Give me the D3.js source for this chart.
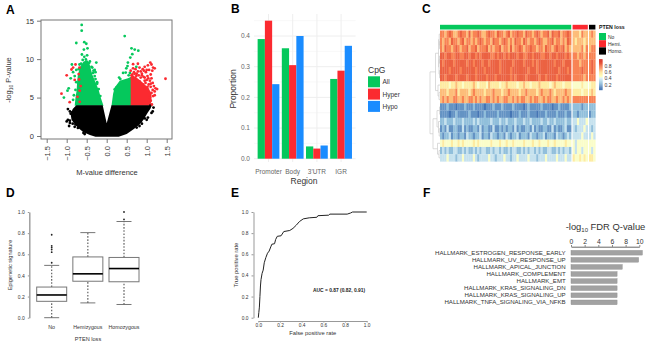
<!DOCTYPE html>
<html>
<head>
<meta charset="utf-8">
<script src="https://cdn.jsdelivr.net/npm/d3@7"></script>
<style>
  html, body { margin: 0; padding: 0; background: #fff; }
  svg { display: block; font-family: "Liberation Sans", Arial, sans-serif; }
</style>
</head>
<body>
<div id="result"></div>
<script>
// panel A: dense parts of the cloud as outlines, loose points listed one by one
const volcanoBlackOutline = [[-0.76,4],[-0.85,3.5],[-0.9,2.8],[-0.88,2.1],[-0.78,1.4],[-0.68,0.9],[-0.58,0.5],[-0.42,0.12],[-0.28,-0.1],[0.3,-0.1],[0.5,0.25],[0.68,0.9],[0.82,1.5],[0.92,2.1],[1.02,3],[1.1,3.6],[1.12,4],[0.12,4],[0,1.65],[-0.1,4]];
const volcanoGreenLeft = [[-0.8,3.95],[-0.78,5],[-0.75,6],[-0.74,7],[-0.72,8],[-0.66,9],[-0.58,9.7],[-0.48,9.85],[-0.42,9.2],[-0.36,8],[-0.28,7],[-0.2,6],[-0.15,5],[-0.08,3.95]];
const volcanoGreenRight = [[0.12,3.95],[0.16,5.5],[0.2,6.3],[0.325,7.2],[0.53,7.5],[0.61,7.7],[0.61,3.95]];
const volcanoRedRight = [[0.6,3.95],[0.6,7.8],[0.72,7.7],[0.85,7.2],[0.95,6.7],[1.05,6.2],[1.12,5.5],[1.12,4.5],[1.08,3.95]];
const volcanoBlackPts = [[-0.97,3.5],[-0.92,3.2],[-0.9,2.9],[-0.86,3.1],[-0.97,2.1],[-1,1.9],[-0.92,2],[-0.94,1.3],[-0.92,1.7],[-0.85,1.6],[-0.8,1.2],[-0.78,1.5],[-0.72,1.05],[-0.58,0.4],[-0.55,0.25],[1.17,3.7],[1.15,3.2],[1.12,3],[1.03,2.4],[1,2.1],[0.95,2.3],[0.88,1.6],[0.82,1.3],[0.75,1.1],[0.85,1.9],[1.1,4]];
const volcanoGreenPts = [[-0.625,14.45],[-0.625,13.7],[-0.76,12.1],[-0.56,12.2],[-0.51,12],[-0.57,11.25],[-0.48,11.4],[-0.62,10.6],[-0.49,10.5],[-0.56,10.3],[-0.26,9.55],[-0.87,9.3],[-0.9,7.5],[-0.95,6.2],[-0.98,5.9],[-1.07,5],[-0.8,7.8],[-0.76,8.6],[-0.84,8.3],[-0.76,7],[-0.78,6],[-0.82,5.3],[-0.84,4.7],[-0.3,8.6],[-0.28,8.3],[-0.34,8.2],[-0.24,7],[-0.2,6.1],[-0.16,5.2],[-0.64,9.4],[-0.44,9.5],[-0.62,9],[-0.68,9.3],[-0.7,8.7],[-0.6,9.9],[-0.52,9.95],[-0.42,9.7],[-0.38,9],[-0.33,8.5],[-0.3,7.8],[-0.24,6.8],[-0.36,8.9],[-0.28,7.4],[0.45,13],[0.62,11.4],[0.7,11.25],[0.79,11.1],[0.64,10.65],[0.59,10.2],[0.53,9.55],[0.52,9.1],[0.49,8.8],[0.475,8.25],[0.41,8.2],[0.31,7.6],[0.34,7.4],[0.24,6.3],[0.2,6.05],[0.74,9],[0.55,7.9],[0.58,8.2]];
const volcanoRedPts = [[-1.13,5.5],[-1,7.9],[-0.88,8.65],[-0.84,8.9],[-0.78,9.3],[-0.68,8.9],[-0.7,8.05],[-0.69,7.35],[-0.65,6.5],[-0.675,5.9],[-0.73,5.1],[-0.675,4.45],[-0.925,4.4],[-0.8,7.3],[0.66,9.35],[0.78,9.4],[0.82,8.9],[0.72,8.7],[0.68,8.3],[0.64,8],[0.75,8.1],[0.85,8.4],[0.9,8.7],[0.95,9],[1.03,9.2],[1.09,9.55],[1.12,9.3],[1.16,8.9],[1.2,8.8],[1.06,8.6],[0.98,8.3],[1.1,8],[1.02,7.8],[0.92,7.7],[0.85,7.6],[1,7.3],[1.08,7.2],[1.12,7.5],[0.97,6.9],[1.05,6.7],[1.15,6.9],[1.18,6.5],[1.1,6.4],[1.22,6.2],[1.26,6.1],[1.2,5.8],[1.12,5.6],[1.16,5.2],[1.08,5],[1.1,4.6],[1.05,4.3],[0.95,6.2],[0.9,6.7],[0.82,7.1],[0.7,7.5],[0.66,7.7],[1.47,7.45],[1.13,4.1],[0.63,7.4],[0.74,7.8],[0.8,7.9],[0.88,7.9],[0.95,7.6],[1.04,7.5],[0.95,7.2],[1.1,6.8],[1.02,6.4],[1.15,6],[0.78,8.4],[0.7,8.1],[0.88,8.1],[0.93,8.5],[1,8.6],[1.14,8.5],[0.62,7.9],[0.6,8.5],[0.66,8.8],[1.2,5.3]];

// panel B
const regions = ["Promoter", "Body", "3'UTR", "IGR"];
const cpgGroups = ["All", "Hyper", "Hypo"];
const cpgAll = [0.39, 0.36, 0.04, 0.26];
const cpgHyper = [0.45, 0.305, 0.033, 0.287];
const cpgHypo = [0.243, 0.40, 0.043, 0.368];

// panel C: one digit per sample, digit d means about d/10 + 0.05
const heatRows = [
  "7767876678 7768677876 6787768776 7867787768 7767876778 6877867787 6665766 676",
  "7677687767 8677676787 6776877678 7676877687 6776787667 7867767687 6566656 666",
  "7687767876 7786778677 7867677867 7686778767 7877677687 7678778676 6666757 677",
  "8878877887 7887887878 8887787887 8788878877 8878887788 7887888787 7767767 777",
  "8788887888 8878878887 8878888788 8887888878 8878788888 8878887888 7776777 787",
  "8888788887 8888887888 7888888788 8878888888 7888788888 8888788878 7777877 787",
  "8878888788 8878887888 8788878888 8878788887 8888878878 8887888888 7777767 777",
  "5555455655 4555565455 5465555455 6555545565 5455565555 4565554555 4444544 455",
  "6665666756 6665676666 5666766656 6766665667 6666567666 7656666766 5555455 565",
  "6767667766 7667767676 6776767667 7667676776 6767766767 7667667676 7777777 777",
  "1112111011 1211121111 0111211121 1112111101 2111112111 1011211112 2222122 222",
  "1111011211 1112111011 2111112111 1101112111 2111011121 1112111211 2212222 122",
  "2232223222 3222232322 2223222322 3222322232 2322223223 2232222322 3343334 333",
  "1213112211 3121122131 2211311212 1221312112 2131211221 1312112311 3233343 323",
  "2122312212 2132212231 2213221221 3212231222 1322122312 2213221232 3333433 343",
  "4544454454 5444454544 4445444544 5445444454 4454454445 4454444544 4344444 444",
  "2323223322 3232232323 3223233232 2323322323 2332323223 3223232332 4344344 434",
  "3334333233 4333343233 3343323334 3323343333 4333233343 3334333433 5445454 554"
];
const ptenGroups = ["No", "Hemi.", "Homo."];
const ptenCounts = [60, 7, 3];
const heatLegendTicks = [0.8, 0.6, 0.4, 0.2];
// [merge height, left, right], a bare number is a row
const rowTree = [1, [0.45, [0.15, [0.08, 0, [0.05, 1, 2]], [0.1, [0.05, 3, 4], [0.05, 5, 6]]], [0.2, 7, [0.1, 8, 9]]],
  [0.7, [0.3, [0.04, 10, 11], [0.15, 12, [0.08, 13, 14]]], [0.25, 15, [0.1, 16, 17]]]];

// panel D
const boxLabels = ["No", "Hemizygous", "Homozygous"];
const boxLow = [0, 0.14, 0.125];
const boxQ1 = [0.155, 0.345, 0.34];
const boxMedian = [0.215, 0.415, 0.465];
const boxQ3 = [0.29, 0.575, 0.57];
const boxHigh = [0.495, 0.805, 0.91];
const boxOutliers = [[0.52, 0.62, 0.645, 0.665, 0.68, 0.785], [], [0.93, 1.0]];

// panel E
const rocFpr = [0,0.005,0.01,0.015,0.02,0.025,0.035,0.045,0.055,0.07,0.085,0.1,0.115,0.125,0.15,0.16,0.175,0.21,0.235,0.29,0.32,0.35,0.38,0.415,0.47,0.54,0.55,0.65,0.66,0.82,0.85,0.87,1];
const rocTpr = [0,0.05,0.1,0.2,0.3,0.36,0.42,0.45,0.52,0.57,0.61,0.63,0.67,0.695,0.7,0.74,0.77,0.775,0.815,0.825,0.845,0.875,0.91,0.935,0.945,0.95,0.965,0.97,0.98,0.98,0.99,1,1];

// panel F
const hallmarkNames = ["HALLMARK_ESTROGEN_RESPONSE_EARLY", "HALLMARK_UV_RESPONSE_UP", "HALLMARK_APICAL_JUNCTION", "HALLMARK_COMPLEMENT", "HALLMARK_EMT", "HALLMARK_KRAS_SIGNALING_DN", "HALLMARK_KRAS_SIGNALING_UP", "HALLMARK_TNFA_SIGNALING_VIA_NFKB"];
const hallmarkValues = [10.45, 9.9, 7.5, 6.75, 6.75, 6.75, 6.75, 6.75];

const GREEN = "#05c85c", RED = "#fb2a30", BLUE = "#1a8cff";

const svg = d3.select("#result").append("svg")
    .attr("width", 650)
    .attr("height", 346);

svg.append("rect").attr("width", 650).attr("height", 346).attr("fill", "#fff");

function label(x, y, text, size, opts) {
    opts = opts || {};
    const t = svg.append("text")
        .attr("x", x).attr("y", y)
        .attr("font-size", size)
        .attr("fill", opts.fill || "#333")
        .attr("text-anchor", opts.anchor || "middle")
        .attr("font-weight", opts.weight || null)
        .text(text);
    if (opts.rotate) t.attr("transform", "rotate(-90," + x + "," + y + ")");
    return t;
}

function styleAxis(g, color, size) {
    g.selectAll("path,line").attr("stroke", color);
    g.selectAll("text").attr("fill", "#333").attr("font-size", size).attr("font-family", null);
}

[["A", 6, 14], ["B", 231, 13], ["C", 422, 13], ["D", 6, 197], ["E", 231, 197], ["F", 423, 197]].forEach(function (p) {
    label(p[1], p[2], p[0], 12, { anchor: "start", weight: "bold", fill: "#000" });
});

// ---- A
const ax = d3.scaleLinear().domain([-1.5, 1.5]).range([46.7, 166.7]);
const ay = d3.scaleLinear().domain([0, 15]).range([136, 20.7]);
const outline = d3.line().x(function (d) { return ax(d[0]); }).y(function (d) { return ay(d[1]); });

function cloud(points, color) {
    svg.append("g").selectAll("circle").data(points).join("circle")
        .attr("cx", function (d) { return ax(d[0]); })
        .attr("cy", function (d) { return ay(d[1]); })
        .attr("r", 1.4)
        .attr("fill", color);
}
[[volcanoGreenLeft, GREEN], [volcanoGreenRight, GREEN], [volcanoRedRight, RED], [volcanoBlackOutline, "#000"]].forEach(function (s) {
    svg.append("path").attr("d", outline(s[0]) + "Z").attr("fill", s[1]);
});
cloud(volcanoBlackPts, "#000");
cloud(volcanoGreenPts, GREEN);
cloud(volcanoRedPts, RED);

svg.append("rect").attr("x", 41).attr("y", 20).attr("width", 131).attr("height", 119)
    .attr("fill", "none").attr("stroke", "#777").attr("stroke-width", 1);

const axBottom = svg.append("g").attr("transform", "translate(0,139)")
    .call(d3.axisBottom(ax).tickValues([-1.5, -1, -0.5, 0, 0.5, 1, 1.5]).tickFormat(d3.format(".1f")).tickSize(4).tickSizeOuter(0));
styleAxis(axBottom, "#777", 7.5);
axBottom.select(".domain").remove();
axBottom.selectAll("text")
    .text(function (d) { return d3.format(".1f")(d); })
    .attr("transform", "rotate(-90)")
    .attr("text-anchor", "end").attr("x", -7).attr("y", 0).attr("dy", "0.35em");

const axLeft = svg.append("g").attr("transform", "translate(41,0)")
    .call(d3.axisLeft(ay).tickValues([0, 5, 10, 15]).tickSize(4).tickSizeOuter(0));
styleAxis(axLeft, "#777", 7.5);
axLeft.select(".domain").remove();

const aTitle = label(11, 80, "-log", 7.5, { rotate: true });
aTitle.append("tspan").attr("font-size", 5).attr("dy", 1.5).text("10");
aTitle.append("tspan").attr("dy", -1.5).text(" P-value");
label(107, 175, "M-value difference", 7.5);

// ---- B
const bx = d3.scaleBand().domain(regions).range([254, 355.6]).paddingInner(0).paddingOuter(0.1);
const by = d3.scaleLinear().domain([0, 0.4]).range([158.7, 36]);
const bTicks = [0, 0.1, 0.2, 0.3, 0.4];
const bMinor = [0.05, 0.15, 0.25, 0.35, 0.45];

svg.append("g").selectAll("line").data(bMinor).join("line")
    .attr("x1", 254).attr("x2", 355.6)
    .attr("y1", by).attr("y2", by)
    .attr("stroke", "#f5f5f5").attr("stroke-width", 0.7);
svg.append("g").selectAll("line").data(bTicks).join("line")
    .attr("x1", 254).attr("x2", 355.6)
    .attr("y1", by).attr("y2", by)
    .attr("stroke", "#eeeeee").attr("stroke-width", 1);
svg.append("g").selectAll("line").data(regions).join("line")
    .attr("x1", function (d) { return bx(d) + bx.bandwidth() / 2; })
    .attr("x2", function (d) { return bx(d) + bx.bandwidth() / 2; })
    .attr("y1", 14).attr("y2", 162)
    .attr("stroke", "#eeeeee").attr("stroke-width", 1);

const bw = bx.bandwidth() * 0.9;
const bDodge = d3.scaleBand().domain(cpgGroups).range([0, bw]);
const bColor = d3.scaleOrdinal().domain(cpgGroups).range([GREEN, RED, BLUE]);
[cpgAll, cpgHyper, cpgHypo].forEach(function (vals, s) {
    svg.append("g").selectAll("rect").data(vals).join("rect")
        .attr("x", function (d, i) { return bx(regions[i]) + bx.bandwidth() * 0.05 + bDodge(cpgGroups[s]); })
        .attr("width", bDodge.bandwidth())
        .attr("y", function (d) { return by(d); })
        .attr("height", function (d) { return by(0) - by(d); })
        .attr("fill", bColor(cpgGroups[s]));
});

bTicks.forEach(function (t) {
    label(250, by(t) + 2.4, d3.format(".1f")(t), 6.5, { anchor: "end", fill: "#666" });
});
regions.forEach(function (r) {
    label(bx(r) + bx.bandwidth() / 2, 174, r, 6.5, { fill: "#666" });
});
label(304, 184, "Region", 8.5);
label(236, 89, "Proportion", 8.5, { rotate: true });
label(368, 73, "CpG", 8.5, { anchor: "start" });
cpgGroups.forEach(function (g, i) {
    const top = 76.3 + i * 12.3;
    svg.append("rect").attr("x", 368).attr("y", top).attr("width", 12).attr("height", 11).attr("fill", bColor(g));
    label(382.5, top + 8, g, 6.5, { anchor: "start" });
});

// ---- C
const heatColor = d3.scaleLinear()
    .domain([0.08, 0.25, 0.4, 0.46, 0.6, 0.72, 1.0])
    .range(["#4575b4", "#91bfdb", "#e0f3f8", "#ffffbf", "#fee090", "#fc8d59", "#d73027"])
    .clamp(true);
const heatMatrix = heatRows.map(function (r) {
    return r.replace(/ /g, "").split("").map(function (c) { return +c / 10 + 0.05; });
});
const rowY = d3.scaleBand().domain(d3.range(heatRows.length)).range([30.5, 161.5]);
const groupX = [[440, 571.2], [572.6, 587.8], [589, 595.4]];
const groupColor = [GREEN, RED, "#000"];
const heatG = svg.append("g").style("filter", "blur(0.7px)");
let startCol = 0;
ptenCounts.forEach(function (n, g) {
    const cx = d3.scaleBand().domain(d3.range(startCol, startCol + n)).range(groupX[g]);
    heatMatrix.forEach(function (row, i) {
        heatG.append("g").selectAll("rect").data(row.slice(startCol, startCol + n)).join("rect")
            .attr("x", function (d, j) { return cx(startCol + j); })
            .attr("width", cx.bandwidth() + 0.2)
            .attr("y", rowY(i))
            .attr("height", rowY.bandwidth() + 0.1)
            .attr("fill", function (d) { return heatColor(d); });
    });
    svg.append("rect").attr("x", groupX[g][0]).attr("y", 24.8)
        .attr("width", groupX[g][1] - groupX[g][0]).attr("height", 4.7)
        .attr("fill", groupColor[g]);
    startCol += n;
});

// row dendrogram
const treeX = d3.scaleLinear().domain([0, 1]).range([440, 430]);
const treeG = svg.append("g").attr("fill", "none").attr("stroke", "#cccccc").attr("stroke-width", 0.7);
function drawTree(node) {
    if (typeof node === "number") return { y: rowY(node) + rowY.bandwidth() / 2, h: 0 };
    const a = drawTree(node[1]), b = drawTree(node[2]);
    treeG.append("path").attr("d", "M" + treeX(a.h) + "," + a.y + "H" + treeX(node[0]) + "V" + b.y + "H" + treeX(b.h));
    return { y: (a.y + b.y) / 2, h: node[0] };
}
drawTree(rowTree);

label(599, 29, "PTEN loss", 5.2, { anchor: "start", weight: "bold", fill: "#111" });
ptenGroups.forEach(function (g, i) {
    const top = 33 + i * 7.2;
    svg.append("rect").attr("x", 599).attr("y", top).attr("width", 7).attr("height", 7.2).attr("fill", groupColor[i]);
    label(608, top + 5.5, g, 5, { anchor: "start" });
});

// colour key
const keyY = d3.scaleLinear().domain([0.8, 0.2]).range([66, 84.7]);
const keyStops = d3.range(0.03, 1.0, 0.03);
svg.append("g").selectAll("rect").data(keyStops).join("rect")
    .attr("x", 599).attr("width", 3.6)
    .attr("y", function (d) { return keyY(d + 0.03); })
    .attr("height", keyY(0) - keyY(0.03) + 0.2)
    .attr("fill", function (d) { return heatColor(d); });
heatLegendTicks.forEach(function (t) {
    label(604.5, keyY(t) + 1.8, d3.format(".1f")(t), 5, { anchor: "start" });
});

// ---- D
const dy = d3.scaleLinear().domain([0, 1]).range([317.7, 212]);
const dx = d3.scalePoint().domain(boxLabels).range([51.7, 124]);
const dAxis = svg.append("g").attr("transform", "translate(29.3,0)")
    .call(d3.axisLeft(dy).tickValues([0, 0.2, 0.4, 0.6, 0.8, 1]).tickFormat(d3.format(".1f")).tickSize(1.5).tickSizeOuter(0));
styleAxis(dAxis, "#999", 5);
dAxis.select(".domain").attr("stroke-width", 1.4);

boxLabels.forEach(function (name, i) {
    const g = svg.append("g"), c = dx(name);
    [[boxLow[i], boxQ1[i]], [boxQ3[i], boxHigh[i]]].forEach(function (seg) {
        g.append("line").attr("x1", c).attr("x2", c)
            .attr("y1", dy(seg[0])).attr("y2", dy(seg[1]))
            .attr("stroke", "#555").attr("stroke-width", 1.1).attr("stroke-dasharray", "1.6,1.6");
    });
    [boxLow[i], boxHigh[i]].forEach(function (v) {
        g.append("line").attr("x1", c - 7.5).attr("x2", c + 7.5)
            .attr("y1", dy(v)).attr("y2", dy(v))
            .attr("stroke", "#666").attr("stroke-width", 0.9);
    });
    g.append("rect").attr("x", c - 15).attr("width", 30)
        .attr("y", dy(boxQ3[i])).attr("height", dy(boxQ1[i]) - dy(boxQ3[i]))
        .attr("fill", "#fff").attr("stroke", "#777").attr("stroke-width", 1);
    g.append("line").attr("x1", c - 15).attr("x2", c + 15)
        .attr("y1", dy(boxMedian[i])).attr("y2", dy(boxMedian[i]))
        .attr("stroke", "#000").attr("stroke-width", 1.6);
    g.selectAll("circle").data(boxOutliers[i]).join("circle")
        .attr("cx", c).attr("cy", function (d) { return dy(d); })
        .attr("r", 0.9).attr("fill", "#222");
    label(c, 329, name, 5.3);
});
label(88, 341, "PTEN loss", 5.6);
label(11.5, 265, "Epigenetic signature", 5.6, { rotate: true });

// ---- E
const ex = d3.scaleLinear().domain([0, 1]).range([258.3, 366.7]);
const ey = d3.scaleLinear().domain([0, 1]).range([317.7, 212]);
const eLeft = svg.append("g").attr("transform", "translate(253.5,0)")
    .call(d3.axisLeft(ey).ticks(5).tickFormat(d3.format(".1f")).tickSize(2).tickSizeOuter(0));
styleAxis(eLeft, "#999", 4.8);
const eBottom = svg.append("g").attr("transform", "translate(0,321)")
    .call(d3.axisBottom(ex).ticks(5).tickFormat(d3.format(".1f")).tickSize(1.5).tickSizeOuter(0));
styleAxis(eBottom, "#999", 4.8);
eBottom.selectAll("text").attr("y", 3);
svg.append("path")
    .datum(d3.range(rocFpr.length))
    .attr("fill", "none").attr("stroke", "#222").attr("stroke-width", 1)
    .attr("d", d3.line().x(function (i) { return ex(rocFpr[i]); }).y(function (i) { return ey(rocTpr[i]); }));
label(339, 292, "AUC = 0.87 (0.82, 0.91)", 4.9, { weight: "bold", fill: "#222" });
label(312.7, 335, "False positive rate", 5.8);
label(238, 265, "True positive rate", 5.8, { rotate: true });

// ---- F
const fx = d3.scaleLinear().domain([0, 10]).range([571, 639.3]);
const fy = d3.scaleBand().domain(hallmarkNames).range([249.2, 305.9]).paddingInner(0.34).paddingOuter(0.17);
const fAxis = svg.append("g").attr("transform", "translate(0,246.7)")
    .call(d3.axisTop(fx).tickValues([0, 2, 4, 6, 8, 10]).tickSize(1.5).tickSizeOuter(0));
styleAxis(fAxis, "#666", 6.8);
fAxis.selectAll("text").attr("y", -2.5);
svg.append("g").selectAll("rect").data(hallmarkValues).join("rect")
    .attr("x", fx(0))
    .attr("y", function (d, i) { return fy(hallmarkNames[i]); })
    .attr("width", function (d) { return fx(d) - fx(0); })
    .attr("height", fy.bandwidth())
    .attr("fill", "#a2a2a2")
    .attr("stroke", "#8a8a8a").attr("stroke-width", 0.4);
hallmarkNames.forEach(function (n) {
    label(565.7, fy(n) + fy.bandwidth() / 2 + 2.1, n, 6.1, { anchor: "end" });
});
const fTitle = label(565.7, 230, "-log", 9.4, { anchor: "start" });
fTitle.append("tspan").attr("font-size", 6).attr("dy", 2).text("10");
fTitle.append("tspan").attr("dy", -2).text(" FDR Q-value");
</script>
</body>
</html>
